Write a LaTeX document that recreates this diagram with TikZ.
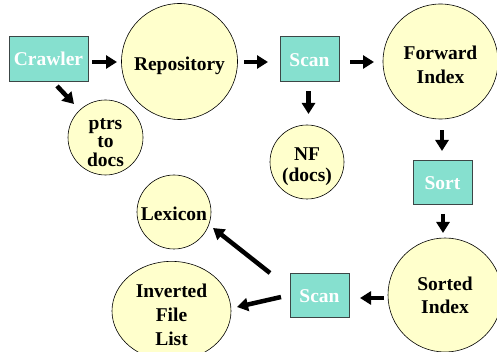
\documentclass[tikz,border=0pt]{standalone}
\usepackage{fontspec}
\setmainfont{Liberation Serif}
\usetikzlibrary{arrows.meta,shapes.geometric}
\definecolor{boxfill}{RGB}{134,224,207}
\definecolor{circfill}{RGB}{255,255,204}
\definecolor{boxline}{RGB}{60,70,70}
% invisible strut that lowers a label by #1 inside its shape
\newcommand\dropby[1]{\rule{0pt}{\dimexpr13pt+#1+#1\relax}}
\tikzset{
  proc/.style={draw=boxline, line width=0.8pt, fill=boxfill, text=white,
    font=\bfseries\fontsize{19.5}{24}\selectfont, inner sep=0pt,
    minimum width=59pt, minimum height=45pt},
  store/.style={circle, draw=black, line width=0.6pt, fill=circfill,
    font=\bfseries\fontsize{19.5}{24}\selectfont, align=center, inner sep=0pt},
  arr/.style={line width=4.5pt, -{Triangle[length=11pt,width=13pt]}}
}
\begin{document}
\begin{tikzpicture}[x=1pt,y=-1pt]
\useasboundingbox (0,0) rectangle (497,352);
% processing steps
\node[proc, minimum width=79pt] (crawler) at (48.5,58.5) {\dropby{1pt}Crawler};
\node[proc] (scanA) at (309.5,58.5) {\dropby{2pt}Scan};
\node[proc, minimum height=44pt] (sort) at (442.5,182) {\dropby{1.5pt}Sort};
\node[proc, minimum height=44pt] (scanB) at (319.5,295) {\dropby{1pt}Scan};
% data stores
\node[store, minimum size=116pt] (repo) at (179.5,61.5) {\dropby{5pt}Repository};
\node[store, minimum size=75pt, font=\bfseries\fontsize{19.5}{18.5}\selectfont] (ptrs) at (105.5,137.5) {\dropby{4pt}ptrs\\to\\docs};
\node[store, minimum size=115pt] (fwd) at (440.5,61.5) {\dropby{3.5pt}Forward\\Index};
\node[store, minimum size=74pt, font=\bfseries\fontsize{19.5}{21}\selectfont] (nf) at (307,162) {\dropby{5pt}NF\\(docs)};
\node[store, minimum size=114pt, font=\bfseries\fontsize{19.5}{23}\selectfont] (sorted) at (445,295) {Sorted\\Index};
\node[store, minimum size=74pt] (lex) at (174,212) {\dropby{2pt}Lexicon};
\node[store, ellipse, minimum width=119pt, minimum height=84pt] (inv) at (171.5,311) {\dropby{4.5pt}Inverted\\File\\List};
% flow
\draw[arr] ([shift={(43.5,3.5)}]crawler.center) -- ([shift={(-62.5,0.5)}]repo.center);
\draw[arr] ([shift={(8.5,27.5)}]crawler.center) -- ([shift={(-31.5,-33.5)}]ptrs.center);
\draw[arr] ([shift={(64.5,0.5)}]repo.center) -- ([shift={(-41.5,3.5)}]scanA.center);
\draw[arr] ([shift={(40.5,3.5)}]scanA.center) -- ([shift={(-66.5,0.5)}]fwd.center);
\draw[arr] ([shift={(-1,33)}]scanA.center) -- ([shift={(1.5,-48)}]nf.center);
\draw[arr] ([shift={(1.5,69)}]fwd.center) -- ([shift={(-0.5,-31)}]sort.center);
\draw[arr] ([shift={(0.5,32)}]sort.center) -- ([shift={(-2,-62)}]sorted.center);
\draw[arr] ([shift={(-61,3)}]sorted.center) -- ([shift={(40.5,3)}]scanB.center);
\draw[arr] ([shift={(-49.5,-22)}]scanB.center) -- ([shift={(39,16)}]lex.center);
\draw[arr] ([shift={(-38.5,2)}]scanB.center) -- ([shift={(65.5,-4)}]inv.center);
\end{tikzpicture}
\end{document}
